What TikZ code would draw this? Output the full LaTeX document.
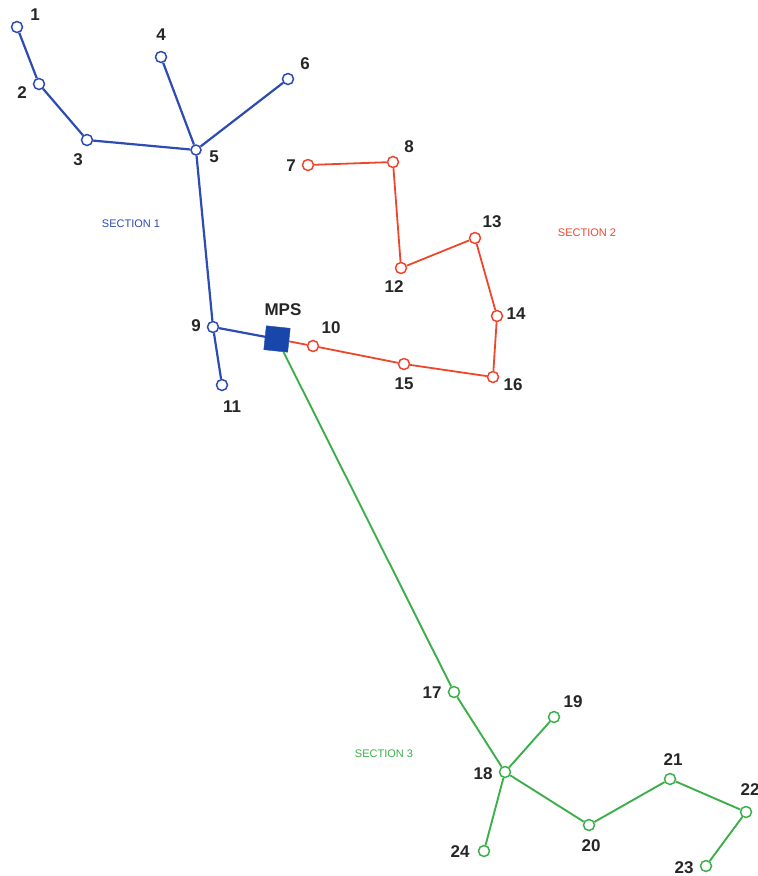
\documentclass[tikz,border=0pt]{standalone}
\usepackage{fontspec}
\setmainfont{Liberation Sans}
\begin{document}
\begin{tikzpicture}[x=1pt,y=-1pt,
  pt/.style={circle,draw,fill=white,line width=1.5pt,minimum size=11pt,inner sep=0pt},
  bpt/.style={pt,draw=secblue},
  rpt/.style={pt,draw=secred},
  gpt/.style={pt,draw=secgreen},
  lbl/.style={font=\bfseries\fontsize{17}{17}\selectfont,text=black!85,inner sep=0pt},
  sec/.style={font=\fontsize{11}{11}\selectfont,inner sep=0pt},
  bl/.style={draw=secblue,line width=2.2pt},
  rl/.style={draw=secred,line width=1.8pt},
  gl/.style={draw=secgreen,line width=1.9pt}]
\definecolor{secblue}{RGB}{45,75,180}
\definecolor{secred}{RGB}{238,70,45}
\definecolor{secgreen}{RGB}{60,175,75}
\definecolor{mpsblue}{RGB}{25,70,170}
\useasboundingbox (0,0) rectangle (758,876);
% nodes
\node[bpt] (n1) at (17,27) {};
\node[bpt] (n2) at (39,84) {};
\node[bpt] (n3) at (87,140) {};
\node[bpt] (n4) at (161,57) {};
\node[bpt,minimum size=10pt] (n5) at (196,150) {};
\node[bpt] (n6) at (288,79) {};
\node[rpt] (n7) at (308,165) {};
\node[rpt] (n8) at (393,162) {};
\node[bpt] (n9) at (213,327) {};
\node[rpt] (n10) at (313,346) {};
\node[bpt] (n11) at (222,385) {};
\node[rpt] (n12) at (401,268) {};
\node[rpt] (n13) at (475,238) {};
\node[rpt] (n14) at (497,316) {};
\node[rpt] (n15) at (404,364) {};
\node[rpt] (n16) at (493,377) {};
\node[draw=mpsblue,fill=mpsblue,minimum size=24pt,inner sep=0pt,rotate=-6] (mps) at (277,339) {};
\node[gpt] (n17) at (454,692) {};
\node[gpt] (n18) at (505,772) {};
\node[gpt] (n19) at (554,717) {};
\node[gpt] (n20) at (589,825) {};
\node[gpt] (n21) at (670,779) {};
\node[gpt] (n22) at (746,812) {};
\node[gpt] (n23) at (706,866) {};
\node[gpt] (n24) at (484,851) {};
% edges
\draw[bl] (n1) -- (n2);
\draw[bl] (n2) -- (n3);
\draw[bl] (n3) -- (n5);
\draw[bl] (n4) -- (n5);
\draw[bl] (n6) -- (n5);
\draw[bl] (n5) -- (n9);
\draw[bl] (n9) -- (n11);
\draw[bl] (n9) -- (mps);
\draw[rl] (mps) -- (n10);
\draw[rl] (n10) -- (n15);
\draw[rl] (n15) -- (n16);
\draw[rl] (n16) -- (n14);
\draw[rl] (n14) -- (n13);
\draw[rl] (n13) -- (n12);
\draw[rl] (n12) -- (n8);
\draw[rl] (n8) -- (n7);
\draw[gl] (mps) -- (n17);
\draw[gl] (n17) -- (n18);
\draw[gl] (n18) -- (n19);
\draw[gl] (n18) -- (n24);
\draw[gl] (n18) -- (n20);
\draw[gl] (n20) -- (n21);
\draw[gl] (n21) -- (n22);
\draw[gl] (n22) -- (n23);
% labels
\node[lbl] (l1) at (35,15) {1};
\node[lbl] (l2) at (22,93) {2};
\node[lbl] (l3) at (78,160) {3};
\node[lbl] (l4) at (161,35) {4};
\node[lbl] (l5) at (214,157) {5};
\node[lbl] (l6) at (305,64) {6};
\node[lbl] (l7) at (291,166) {7};
\node[lbl] (l8) at (409,147) {8};
\node[lbl] (l9) at (196,326) {9};
\node[lbl] (l10) at (331,328) {10};
\node[lbl] (l11) at (232,407) {11};
\node[lbl] (l12) at (394,287) {12};
\node[lbl] (l13) at (492,222) {13};
\node[lbl] (l14) at (516,314) {14};
\node[lbl] (l15) at (404,384) {15};
\node[lbl] (l16) at (513,385) {16};
\node[lbl] (lmps) at (283,310) {MPS};
\node[lbl] (l17) at (432,693) {17};
\node[lbl] (l18) at (483,774) {18};
\node[lbl] (l19) at (573,702) {19};
\node[lbl] (l20) at (591,846) {20};
\node[lbl] (l21) at (673,760) {21};
\node[lbl] (l22) at (750,790) {22};
\node[lbl] (l23) at (684,868) {23};
\node[lbl] (l24) at (460,852) {24};
\node[sec,text=secblue] (s1) at (131,224) {SECTION 1};
\node[sec,text=secred] (s2) at (587,233) {SECTION 2};
\node[sec,text=secgreen] (s3) at (384,754) {SECTION 3};
\end{tikzpicture}
\end{document}
